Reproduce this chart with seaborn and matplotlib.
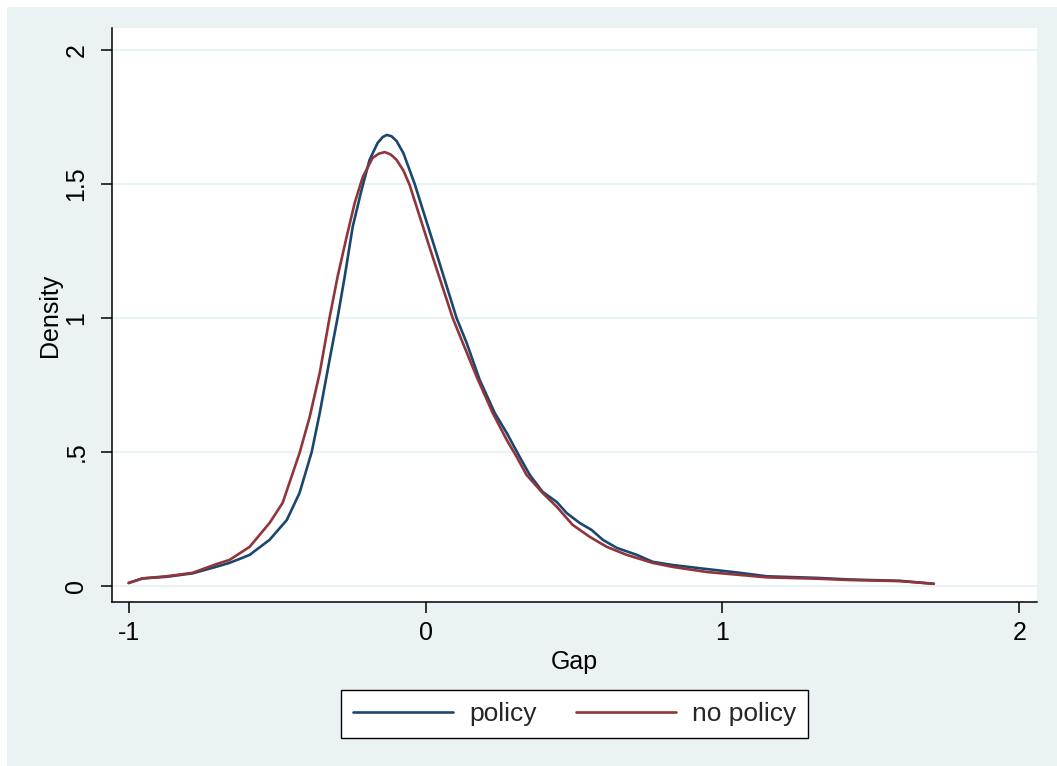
import matplotlib
matplotlib.use("Agg")
import matplotlib.pyplot as plt
from matplotlib.patches import Rectangle
import numpy as np
import pandas as pd
import seaborn as sns

# Kernel density estimates of the gap, with and without the policy
policy_x = [-1.001, -0.954, -0.873, -0.785, -0.704, -0.661, -0.617, -0.593, -0.526,
            -0.468, -0.425, -0.384, -0.357, -0.324, -0.297, -0.273, -0.246, -0.216,
            -0.189, -0.162, -0.145, -0.131, -0.115, -0.098, -0.075, -0.037, 0.034,
            0.104, 0.138, 0.182, 0.233, 0.273, 0.317, 0.351, 0.394, 0.442, 0.475,
            0.519, 0.559, 0.597, 0.644, 0.711, 0.765, 0.832, 0.947, 1.058, 1.149,
            1.318, 1.429, 1.598, 1.712]
policy_y = [0.011, 0.028, 0.034, 0.047, 0.072, 0.086, 0.105, 0.116, 0.172,
            0.246, 0.347, 0.500, 0.645, 0.843, 1.000, 1.153, 1.340, 1.478,
            1.590, 1.653, 1.675, 1.683, 1.678, 1.660, 1.615, 1.500, 1.250,
            1.000, 0.907, 0.769, 0.645, 0.571, 0.481, 0.414, 0.351, 0.313, 0.272,
            0.235, 0.209, 0.172, 0.142, 0.116, 0.090, 0.078, 0.063, 0.049, 0.036,
            0.030, 0.024, 0.019, 0.008]

nopolicy_x = [-1.001, -0.954, -0.873, -0.785, -0.704, -0.661, -0.593, -0.526, -0.482,
              -0.425, -0.391, -0.357, -0.324, -0.297, -0.267, -0.239, -0.212, -0.179,
              -0.158, -0.138, -0.118, -0.098, -0.075, -0.054, 0.017, 0.091, 0.125,
              0.172, 0.226, 0.273, 0.307, 0.340, 0.394, 0.442, 0.495, 0.553, 0.610,
              0.677, 0.765, 0.832, 0.947, 1.058, 1.149, 1.318, 1.429, 1.598, 1.712]
nopolicy_y = [0.011, 0.028, 0.036, 0.049, 0.082, 0.097, 0.146, 0.235, 0.310,
              0.496, 0.630, 0.795, 1.000, 1.153, 1.300, 1.430, 1.526, 1.597,
              1.613, 1.619, 1.610, 1.590, 1.550, 1.496, 1.250, 1.000, 0.907,
              0.780, 0.645, 0.545, 0.481, 0.414, 0.347, 0.295, 0.228, 0.183, 0.146,
              0.116, 0.086, 0.071, 0.052, 0.041, 0.032, 0.027, 0.022, 0.018, 0.008]

series_names = ["policy", "no policy"]
x_ticks = [-1, 0, 1, 2]
y_ticks = [0, 0.5, 1, 1.5, 2]
y_tick_labels = ["0", ".5", "1", "1.5", "2"]

df = pd.concat([
    pd.DataFrame({"Gap": policy_x, "Density": policy_y, "group": series_names[0]}),
    pd.DataFrame({"Gap": nopolicy_x, "Density": nopolicy_y, "group": series_names[1]}),
], ignore_index=True)

BG = "#EAF2F3"
NAVY = "#1A476F"
MAROON = "#90353B"

sns.set_theme(style="white")
plt.rcParams["font.family"] = ["Liberation Sans", "DejaVu Sans"]

W, H = 1057, 766
fig = plt.figure(figsize=(W / 100, H / 100), dpi=100, facecolor="white")
fig.patches.append(Rectangle((7 / W, 0), 1 - 7 / W, 1 - 7 / H, transform=fig.transFigure,
                             facecolor=BG, edgecolor="none", zorder=-10))

ax = fig.add_axes([112 / W, (H - 602) / H, (1037 - 112) / W, (602 - 28) / H])
ax.set_facecolor("white")

sns.lineplot(data=df, x="Gap", y="Density", hue="group", hue_order=series_names,
             palette=[NAVY, MAROON], estimator=None, sort=False, linewidth=1.9, ax=ax)
for line in ax.get_lines():
    line.set_solid_joinstyle("round")

ax.set_xlim(-1.057, 2.06)
ax.set_ylim(-0.06, 2.082)
ax.set_xticks(x_ticks)
ax.set_xticklabels([str(t) for t in x_ticks])
ax.set_yticks(y_ticks)
ax.set_yticklabels(y_tick_labels, rotation=90, va="center")

ax.grid(axis="y", color=BG, linewidth=1.6)
ax.grid(axis="x", visible=False)
ax.set_axisbelow(True)

for side in ["top", "right"]:
    ax.spines[side].set_visible(False)
for side in ["left", "bottom"]:
    ax.spines[side].set_color("black")
    ax.spines[side].set_linewidth(1.1)

ax.tick_params(axis="both", which="major", length=8, width=1.1, color="black",
               labelsize=18, labelcolor="black", left=True, bottom=True)
ax.tick_params(axis="x", pad=6)
ax.tick_params(axis="y", pad=9)

ax.set_xlabel("Gap", fontsize=18, color="black", labelpad=3)
ax.set_ylabel("Density", fontsize=18, color="black", labelpad=2)

handles, labels = ax.get_legend_handles_labels()
ax.get_legend().remove()
leg = fig.legend(handles, labels, loc="center", bbox_to_anchor=(574.5 / W, 1 - 714 / H),
                 ncol=2, fontsize=19, frameon=True, fancybox=False, edgecolor="black",
                 facecolor="white", framealpha=1, handlelength=3.8, handletextpad=0.6,
                 columnspacing=1.5, borderpad=0.45, borderaxespad=0)
leg.get_frame().set_linewidth(1.0)

fig.savefig("out.png", dpi=100, facecolor=fig.get_facecolor())
